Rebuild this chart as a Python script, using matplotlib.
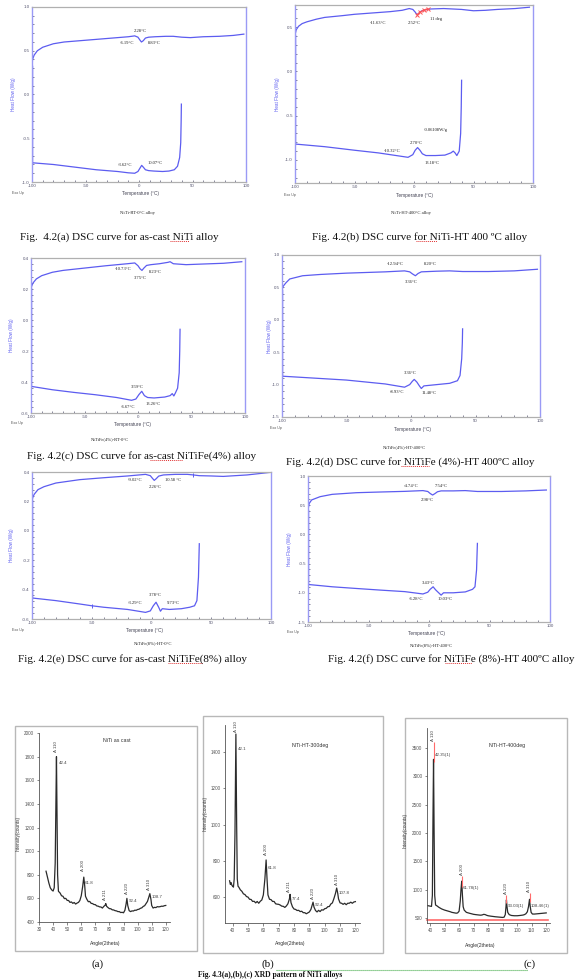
"""Hinh 4.2 (DSC 6 mau) va hinh 4.3 (XRD 3 mau) tren cung mot trang.

Chay:  python plot.py  -> out.png (578x980)
"""
import matplotlib
matplotlib.use("Agg")
import matplotlib.pyplot as plt
from matplotlib.lines import Line2D
from matplotlib.patches import Rectangle
from matplotlib.ticker import AutoMinorLocator

W, H = 578, 980
BLUE = "#5c5cf0"
SPINE_BLUE = "#9a9af5"
GRAY = "#9a9a9a"
SERIF = ["Liberation Serif", "DejaVu Serif"]

plt.rcParams["font.family"] = ["Liberation Sans", "DejaVu Sans"]

# ---- DSC: nhanh gia nhiet (tren) va nhanh lam nguoi (duoi), T (°C) / Heat Flow (W/g)
A_HEAT_T = [-100, -99.5, -98, -95, -90, -80, -70, -60, -50, -40, -30, -20, -10, -4, -1, 1, 2.3, 4, 6, 9, 15, 25, 32, 40, 48, 60, 75, 88, 98]
A_HEAT_Q = [0.32, 0.4, 0.45, 0.5, 0.54, 0.58, 0.6, 0.61, 0.62, 0.63, 0.64, 0.65, 0.66, 0.67, 0.655, 0.62, 0.6, 0.615, 0.645, 0.655, 0.66, 0.665, 0.665, 0.655, 0.65, 0.66, 0.665, 0.675, 0.69]
A_COOL_T = [-100, -80, -60, -40, -20, -10, -4, -1, 1, 2.5, 4, 6, 9, 14, 22, 28, 33, 36, 38, 39, 39.4, 39.6]
A_COOL_Q = [-0.78, -0.8, -0.83, -0.86, -0.88, -0.895, -0.9, -0.88, -0.84, -0.81, -0.83, -0.86, -0.87, -0.875, -0.88, -0.875, -0.86, -0.82, -0.72, -0.55, -0.3, -0.11]

B_HEAT_T = [-100, -99, -97, -94, -90, -82, -75, -60, -50, -35, -20, -10, -4, -1, 1, 2.5, 4, 6, 9, 14, 25, 40, 50, 60, 70, 85, 97]
B_HEAT_Q = [0.41, 0.47, 0.51, 0.54, 0.56, 0.59, 0.61, 0.63, 0.645, 0.66, 0.675, 0.69, 0.71, 0.7, 0.67, 0.64, 0.655, 0.68, 0.695, 0.705, 0.71, 0.7, 0.685, 0.69, 0.7, 0.71, 0.725]
B_COOL_T = [-100, -75, -50, -30, -15, -5, -1, 1, 3, 5, 7, 10, 18, 26, 31, 33, 34.5, 36, 38, 39.2, 39.7, 40]
B_COOL_Q = [-0.82, -0.85, -0.89, -0.92, -0.95, -0.97, -0.94, -0.89, -0.86, -0.89, -0.93, -0.95, -0.95, -0.945, -0.92, -0.9, -0.92, -0.95, -0.9, -0.7, -0.4, -0.1]
B_FIT_T = [2.5, 5, 8, 12]
B_FIT_Q = [0.64, 0.67, 0.69, 0.705]

C_HEAT_T = [-100, -99, -98, -95, -90, -80, -70, -50, -30, -10, -3, 0, 2, 3.7, 5.5, 8, 12, 20, 28, 30, 33, 45, 60, 80, 97]
C_HEAT_Q = [0.206, 0.225, 0.24, 0.265, 0.286, 0.308, 0.32, 0.335, 0.35, 0.363, 0.368, 0.35, 0.33, 0.32, 0.335, 0.352, 0.357, 0.363, 0.372, 0.376, 0.363, 0.357, 0.361, 0.366, 0.376]
C_COOL_T = [-100, -80, -60, -40, -20, -6, -2, 1, 3.5, 6, 9, 15, 25, 30, 32, 33.5, 35, 37, 38.5, 39, 39.3]
C_COOL_Q = [-0.428, -0.45, -0.467, -0.482, -0.5, -0.518, -0.51, -0.48, -0.46, -0.488, -0.5, -0.503, -0.497, -0.488, -0.475, -0.49, -0.47, -0.44, -0.34, -0.2, -0.06]

D_HEAT_T = [-100, -99, -97, -94, -90, -84, -70, -50, -20, -5, -1, 1, 3.4, 5.5, 8, 20, 30, 40, 60, 80, 98]
D_HEAT_Q = [0.46, 0.52, 0.57, 0.63, 0.65, 0.68, 0.7, 0.72, 0.74, 0.755, 0.74, 0.71, 0.68, 0.715, 0.74, 0.75, 0.755, 0.745, 0.745, 0.755, 0.78]
D_COOL_T = [-100, -75, -50, -20, -5, -1, 1, 2.5, 4.5, 6.5, 8, 10, 20, 30, 36, 38, 39.3, 39.8, 40]
D_COOL_Q = [-0.87, -0.9, -0.93, -0.99, -1.04, -1.0, -0.95, -0.92, -0.96, -1.02, -1.06, -1.02, -1.0, -0.98, -0.94, -0.86, -0.6, -0.35, -0.14]

E_HEAT_T = [-100, -99, -98, -95, -90, -80, -60, -40, -20, -5, -1, 1, 2.3, 4, 6, 10, 20, 30, 35, 40, 50, 60, 80, 100]
E_HEAT_Q = [0.207, 0.235, 0.25, 0.28, 0.3, 0.325, 0.348, 0.361, 0.373, 0.384, 0.375, 0.355, 0.343, 0.355, 0.372, 0.38, 0.384, 0.384, 0.38, 0.375, 0.373, 0.37, 0.38, 0.398]
E_COOL_T = [-100, -80, -60, -50, -40, -20, -5, -1, 1.5, 3.8, 6, 7.5, 9, 15, 25, 32, 36, 38, 39.3, 40]
E_COOL_Q = [-0.457, -0.475, -0.498, -0.51, -0.52, -0.535, -0.555, -0.545, -0.51, -0.486, -0.52, -0.547, -0.53, -0.535, -0.53, -0.52, -0.51, -0.475, -0.316, -0.088]
E_MARK_T = [-50, 35]
E_MARK_Q = [-0.51, 0.38]

F_HEAT_T = [-100, -99, -97, -90, -80, -60, -40, -20, -5, -1, 1, 3, 5, 7, 10, 20, 30, 40, 60, 80, 97]
F_HEAT_Q = [0.42, 0.53, 0.59, 0.646, 0.686, 0.714, 0.726, 0.737, 0.75, 0.735, 0.7, 0.674, 0.7, 0.73, 0.745, 0.745, 0.75, 0.735, 0.735, 0.745, 0.76]
F_COOL_T = [-100, -80, -60, -40, -20, -5, -1, 1, 3.4, 5.5, 8, 10, 12, 20, 30, 36, 38, 39.3, 40]
F_COOL_Q = [-0.857, -0.897, -0.926, -0.954, -0.98, -1.02, -0.99, -0.94, -0.897, -0.95, -1.0, -1.04, -1.0, -1.0, -0.985, -0.94, -0.897, -0.61, -0.154]

# nhan nhiet do tren do thi DSC: (T, Q, text)
A_NOTES = [(1, 0.72, "2.28°C"), (-11, 0.59, "-6.19°C"), (14, 0.59, "8.83°C"),
           (-13, -0.8, "-3.62°C"), (15, -0.78, "10.07°C")]
B_NOTES = [(-30, 0.55, "-11.63°C"), (0, 0.55, "2.52°C"), (19, 0.59, "11 deg"),
           (18, -0.66, "-0.06108W/g"), (2, -0.81, "2.70°C"), (-18, -0.9, "-10.32°C"),
           (15, -1.03, "13.18°C")]
C_NOTES = [(-14, 0.33, "-10.73°C"), (2, 0.27, "3.75°C"), (16, 0.31, "8.23°C"),
           (-1, -0.43, "3.59°C"), (-9, -0.56, "-6.67°C"), (14, -0.54, "13.26°C")]
D_NOTES = [(-12, 0.86, "-12.94°C"), (15, 0.86, "8.20°C"), (0, 0.58, "3.36°C"),
           (-1, -0.82, "3.36°C"), (-11, -1.11, "-8.93°C"), (14, -1.13, "11.48°C")]
E_NOTES = [(-14, 0.346, "-9.02°C"), (3, 0.3, "2.26°C"), (18, 0.346, "10.58 °C"),
           (3, -0.44, "3.78°C"), (-14, -0.49, "-3.29°C"), (18, -0.49, "9.73°C")]
F_NOTES = [(-15, 0.83, "-4.74°C"), (10, 0.83, "7.54°C"), (-1, 0.59, "2.98°C"),
           (-1, -0.83, "3.43°C"), (-11, -1.1, "-6.28°C"), (13, -1.1, "10.03°C")]

DSC_XTICKS = [-100, -50, 0, 50, 100]
TICKS_W = [1.0, 0.5, 0.0, -0.5, -1.0, -1.5]
TICKS_NARROW = [0.4, 0.2, 0.0, -0.2, -0.4, -0.6]

CAPTIONS = [
    "Fig.  4.2(a) DSC curve for as-cast NiTi alloy",
    "Fig. 4.2(b) DSC curve for NiTi-HT 400 ºC alloy",
    "Fig. 4.2(c) DSC curve for as-cast NiTiFe(4%) alloy",
    "Fig. 4.2(d) DSC curve for NiTiFe (4%)-HT 400ºC alloy",
    "Fig. 4.2(e) DSC curve for as-cast NiTiFe(8%) alloy",
    "Fig. 4.2(f) DSC curve for NiTiFe (8%)-HT 400ºC alloy",
]
SAMPLES = ["NiTi-RT-0°C alloy", "NiTi-HT-400°C alloy", "NiTiFe(4%)-RT-0°C",
           "NiTiFe(4%)-HT-400°C", "NiTiFe(8%)-HT-0°C", "NiTiFe(8%)-HT-400°C"]

# ---- XRD: goc 2theta / cuong do (counts)
XA_ANGLE = [35, 36, 37, 38, 39, 40, 40.8, 41.5, 42.0, 42.4, 42.8, 43.2, 43.8, 45, 46, 47, 48, 49, 50, 51,
            52, 53, 54, 55, 56, 57, 58, 59, 60, 61, 61.8, 62.5, 63, 64, 65, 66, 67, 68, 69, 70,
            71, 72, 73, 74, 75, 76, 77, 77.4, 78, 79, 80, 81, 82, 83, 84, 85, 86, 87, 88, 89,
            90, 91, 91.8, 92.4, 93, 94, 95, 96, 97, 98, 99, 100, 101, 102, 103, 104, 105, 106, 107, 108,
            108.7, 109.5, 110, 111, 112, 113, 114, 115, 116, 117, 118, 119, 120]
XA_COUNTS = [830, 780, 730, 690, 672, 662, 690, 900, 1400, 1800, 1300, 800, 660, 645, 622, 618, 598, 600, 583, 582,
             566, 570, 558, 565, 552, 560, 566, 582, 622, 700, 780, 700, 618, 592, 572, 574, 558, 556, 548, 547,
             536, 534, 528, 527, 518, 532, 543, 556, 533, 522, 513, 512, 503, 502, 496, 494, 488, 488, 480, 482,
             478, 500, 550, 600, 540, 496, 488, 494, 493, 500, 499, 506, 508, 516, 520, 532, 538, 556, 574, 612,
             640, 590, 540, 518, 524, 522, 530, 528, 530, 534, 533, 538, 540]

XB_ANGLE = [38, 38.5, 39, 39.5, 40, 40.5, 41, 41.5, 42.1, 42.6, 43, 43.5, 44, 45, 46, 47, 48, 49, 50, 51,
            52, 53, 54, 55, 56, 57, 58, 59, 60, 61, 61.8, 62.4, 63, 64, 65, 66, 67, 68, 69, 70,
            71, 72, 73, 74, 75, 76, 77, 77.4, 78, 79, 80, 81, 82, 83, 84, 85, 86, 87, 88, 89,
            90, 91, 91.8, 92.4, 93, 94, 95, 96, 97, 98, 99, 100, 101, 102, 103, 104, 105, 106, 107, 107.8,
            108.5, 109, 110, 111, 112, 113, 114, 115, 116, 117, 118, 119, 120]
XB_COUNTS = [690, 670, 680, 665, 660, 655, 700, 950, 1500, 1000, 700, 660, 655, 640, 632, 618, 614, 603, 600, 588,
             587, 576, 577, 568, 576, 566, 577, 584, 612, 700, 805, 700, 612, 588, 586, 576, 576, 563, 561, 560,
             556, 550, 549, 543, 551, 563, 590, 615, 570, 546, 534, 532, 526, 527, 520, 522, 514, 514, 508, 513,
             518, 532, 555, 572, 545, 526, 518, 527, 520, 530, 528, 536, 538, 547, 548, 562, 568, 592, 620, 650,
             620, 590, 568, 566, 560, 566, 558, 566, 566, 572, 566, 573, 575]

XC_ANGLE = [38, 39, 40, 41, 41.6, 42.0, 42.4, 42.8, 43.2, 43.8, 45, 46, 47, 48, 49, 50, 52, 54, 55, 56,
            57, 58, 59, 60, 60.8, 61.3, 61.8, 62.3, 62.8, 63.5, 65, 67, 70, 72, 74, 75, 76, 77, 78, 79,
            80, 82, 85, 88, 90, 91, 91.8, 92.3, 92.6, 93, 93.5, 94.5, 96, 98, 100, 102, 104, 105, 106, 107,
            107.8, 108.5, 109, 109.6, 110.5, 112, 114, 116, 118, 120]
XC_COUNTS = [720, 715, 710, 705, 900, 2200, 3300, 2000, 900, 730, 710, 690, 675, 660, 650, 640, 625, 610, 600, 595,
             590, 585, 590, 620, 800, 1000, 1150, 900, 700, 640, 600, 585, 565, 558, 552, 550, 555, 565, 560, 548,
             540, 532, 522, 515, 510, 515, 560, 700, 820, 700, 600, 560, 545, 540, 540, 545, 552, 560, 575, 610,
             700, 830, 700, 600, 570, 570, 575, 580, 585, 590]
XC_FIT_ANGLE = [42.4, 61.8, 92.6, 108.5]
XC_FIT_LO = [3250, 1050, 760, 780]
XC_FIT_HI = [3600, 1250, 900, 950]
XC_BASE_ANGLE = [38, 121]
XC_BASE_COUNTS = [470, 470]

# nhan dinh XRD: (goc, counts, text, xoay)
XA_NOTES = [(42.4, 1840, "A 110", 90), (44.3, 1747, "42.4", 0), (61.4, 830, "A 200", 90),
            (62.8, 730, "61.8", 0), (76.8, 585, "A 211", 90), (92.2, 640, "A 220", 90),
            (93.6, 578, "92.4", 0), (108.4, 670, "A 310", 90), (110, 612, "108.7", 0)]
XB_NOTES = [(42.0, 1510, "A 110", 90), (43.3, 1420, "42.1", 0), (61.5, 830, "A 200", 90),
            (62.8, 760, "61.8", 0), (77.0, 630, "A 211", 90), (78.5, 590, "77.4", 0),
            (92.3, 590, "A 220", 90), (93.6, 555, "92.4", 0), (107.7, 665, "A 310", 90),
            (109, 625, "107.8", 0)]
XC_NOTES = [(42.3, 3620, "A 110", 90), (43.6, 3375, "42.35(1)", 0), (61.7, 1260, "A 200", 90),
            (62.8, 1030, "61.78(1)", 0), (92.5, 920, "A 220", 90), (93.6, 720, "93.03(1)", 0),
            (108.4, 960, "A 310", 90), (109.5, 720, "108.46(1)", 0)]


def fr(l, t, r, b):
    """khung theo pixel (trai, tren, phai, duoi) -> toa do figure"""
    return [l / W, 1 - b / H, (r - l) / W, (b - t) / H]


def put(fig, x, y, s, **kw):
    kw.setdefault("ha", "center")
    kw.setdefault("va", "center")
    fig.text(x / W, 1 - y / H, s, **kw)


def hline(fig, x0, x1, y, color, ls=(0, (1, 1)), lw=0.7):
    fig.add_artist(Line2D([x0 / W, x1 / W], [1 - y / H, 1 - y / H], color=color,
                          lw=lw, ls=ls, transform=fig.transFigure))


def dsc_panel(fig, box, ylim, yticks, heat, cool, notes, extra):
    ax = fig.add_axes(fr(*box))
    ht, hq = heat
    ct, cq = cool
    ax.plot(ht, hq, color=BLUE, lw=0.9)
    ax.plot(ct, cq, color=BLUE, lw=0.9)
    ax.plot([ct[0], ht[0]], [cq[0], hq[0]], color=BLUE, lw=1.0)
    for xs, ys, col, mk, ls in extra:
        ax.plot(xs, ys, color=col, lw=0.8, ls=ls, marker=mk, ms=2.5, mew=0.7)
    ax.set_xlim(-100, 100)
    ax.set_ylim(*ylim)
    ax.set_xticks(DSC_XTICKS)
    ax.set_xticklabels([str(v) for v in DSC_XTICKS])
    ax.set_yticks(yticks)
    ax.set_yticklabels([f"{v:.1f}" for v in yticks])
    ax.xaxis.set_minor_locator(AutoMinorLocator(5))
    ax.yaxis.set_minor_locator(AutoMinorLocator(5))
    ax.tick_params(which="both", direction="in", length=1.4, width=0.5,
                   labelsize=3.2, colors="#555570", pad=1.5)
    for side in ("left", "right"):
        ax.spines[side].set_color(SPINE_BLUE)
        ax.spines[side].set_linewidth(1.0)
    for side in ("top", "bottom"):
        ax.spines[side].set_color("#b0b0b0")
        ax.spines[side].set_linewidth(0.9)
    for t, q, s in notes:
        ax.text(t, q, s, fontsize=3.3, ha="center", va="center", family=SERIF, color="#222222")
    return ax


def xrd_panel(fig, frame, box, xlim, ylim, xticks, yticks, angle, counts, notes, title, pos):
    l, t, r, b = frame
    fig.add_artist(Rectangle((l / W, 1 - b / H), (r - l) / W, (b - t) / H,
                             transform=fig.transFigure, fill=False, ec="#b8b8b8", lw=1.0))
    ax = fig.add_axes(fr(*box))
    ax.plot(angle, counts, color="#2b2b2b", lw=0.9)
    ax.set_xlim(*xlim)
    ax.set_ylim(*ylim)
    ax.set_xticks(xticks)
    ax.set_yticks(yticks)
    ax.tick_params(direction="out", length=1.8, width=0.5, labelsize=3.3,
                   colors="#555555", pad=1.5)
    for side in ("top", "right"):
        ax.spines[side].set_visible(False)
    for side in ("left", "bottom"):
        ax.spines[side].set_color("#555555")
        ax.spines[side].set_linewidth(0.6)
    for a, c, s, rot in notes:
        ax.text(a, c, s, fontsize=3.2, rotation=rot, color="#444444", clip_on=False,
                ha="center" if rot else "left", va="bottom" if rot else "center")
    put(fig, *pos["title"], title, fontsize=3.8, color="#333333")
    put(fig, *pos["ylab"], "Intensity(counts)", fontsize=3.4, rotation=90, color="#333333")
    put(fig, *pos["xlab"], "Angle(2theta)", fontsize=3.6, color="#333333")
    return ax


def main():
    fig = plt.figure(figsize=(W / 100, H / 100), dpi=100)

    panels = [
        # khung, ylim, yticks, nhanh tren, nhanh duoi, nhan, phu
        ((32, 7, 246, 182), (-1.0, 1.0), TICKS_W[:5], (A_HEAT_T, A_HEAT_Q), (A_COOL_T, A_COOL_Q), A_NOTES, []),
        ((295, 5, 533, 183), (-1.26, 0.75), TICKS_W[1:5], (B_HEAT_T, B_HEAT_Q), (B_COOL_T, B_COOL_Q), B_NOTES,
         [(B_FIT_T, B_FIT_Q, "#ff5555", "x", "-")]),
        ((31, 258, 245, 413), (-0.6, 0.4), TICKS_NARROW, (C_HEAT_T, C_HEAT_Q), (C_COOL_T, C_COOL_Q), C_NOTES, []),
        ((282, 255, 540, 417), (-1.5, 1.0), TICKS_W, (D_HEAT_T, D_HEAT_Q), (D_COOL_T, D_COOL_Q), D_NOTES, []),
        ((32, 472, 271, 619), (-0.6, 0.4), TICKS_NARROW, (E_HEAT_T, E_HEAT_Q), (E_COOL_T, E_COOL_Q), E_NOTES,
         [(E_MARK_T, E_MARK_Q, BLUE, "|", "none")]),
        ((308, 476, 550, 622), (-1.5, 1.0), TICKS_W, (F_HEAT_T, F_HEAT_Q), (F_COOL_T, F_COOL_Q), F_NOTES, []),
    ]
    # vi tri chu phu (pixel): ylabel x, xlabel, ten mau, Exo Up, chu thich hinh
    texts = [
        (13, (140, 194), (137, 213), (18, 193), (20, 237)),
        (277, (415, 195), (411, 213), (290, 195), (312, 237)),
        (12, (132, 424), (110, 439), (17, 423), (27, 456)),
        (270, (412, 429), (405, 447), (276, 428), (286, 462)),
        (12, (145, 630), (153, 643), (18, 630), (18, 659)),
        (289, (426, 633), (431, 645), (293, 632), (328, 659)),
    ]
    for (box, ylim, yt, heat, cool, notes, extra), (ylx, xl, smp, exo, cap), sample, caption in zip(
            panels, texts, SAMPLES, CAPTIONS):
        dsc_panel(fig, box, ylim, yt, heat, cool, notes, extra)
        yc = (box[1] + box[3]) / 2
        put(fig, ylx, yc, "Heat Flow (W/g)", fontsize=3.3, rotation=90, color=BLUE)
        put(fig, *xl, "Temperature (°C)", fontsize=3.4, color="#444455")
        put(fig, *smp, sample, fontsize=3.3, family=SERIF, color="#222222")
        put(fig, *exo, "Exo Up", fontsize=2.6, color="#555555")
        put(fig, cap[0], cap[1], caption, fontsize=8, family=SERIF, ha="left", color="#111111")

    # gach chan kieu kiem tra chinh ta duoi ten hop kim
    for x0, x1, y in [(170, 189, 241), (416, 437, 241), (150, 183, 460), (401, 429, 466),
                      (168, 203, 663), (445, 472, 663)]:
        hline(fig, x0, x1, y, "#e03030")

    xrd_panel(fig, (15, 726, 197, 951), (39, 733, 170, 922), (30, 123), (400, 2000),
              list(range(30, 121, 10)), list(range(400, 2001, 200)), XA_ANGLE, XA_COUNTS, XA_NOTES,
              "NiTi as cast", {"title": (117, 740), "ylab": (18, 833), "xlab": (105, 943)})
    xrd_panel(fig, (203, 716, 383, 953), (225, 725, 360, 923), (35, 123), (457, 1550),
              list(range(40, 121, 10)), list(range(600, 1401, 200)), XB_ANGLE, XB_COUNTS, XB_NOTES,
              "NiTi-HT-300deg", {"title": (310, 745), "ylab": (205, 813), "xlab": (290, 943)})
    ax = xrd_panel(fig, (405, 718, 567, 953), (427, 728, 550, 923), (37.9, 122.6), (412, 3853),
                   list(range(40, 121, 10)), list(range(500, 3501, 500)), XC_ANGLE, XC_COUNTS, XC_NOTES,
                   "NiTi-HT-400deg", {"title": (507, 745), "ylab": (405, 830), "xlab": (480, 945)})
    ax.plot(XC_BASE_ANGLE, XC_BASE_COUNTS, color="#ff6b6b", lw=1.2, clip_on=False)
    ax.vlines(XC_FIT_ANGLE, XC_FIT_LO, XC_FIT_HI, color="#ff6b6b", lw=0.8, clip_on=False)

    for x, s in [(98, "(a)"), (268, "(b)"), (530, "(c)")]:
        put(fig, x, 964, s, fontsize=8, family=SERIF, color="#111111")
    hline(fig, 276, 528, 970, "#4caf50", ls=(0, (1, 0.8)), lw=0.8)
    put(fig, 270, 979, "Fig. 4.3(a),(b),(c) XRD pattern of NiTi alloys", fontsize=5.5,
        family=SERIF, weight="bold", color="#111111", va="bottom")

    fig.savefig("out.png", dpi=100)
    plt.close(fig)


if __name__ == "__main__":
    main()
